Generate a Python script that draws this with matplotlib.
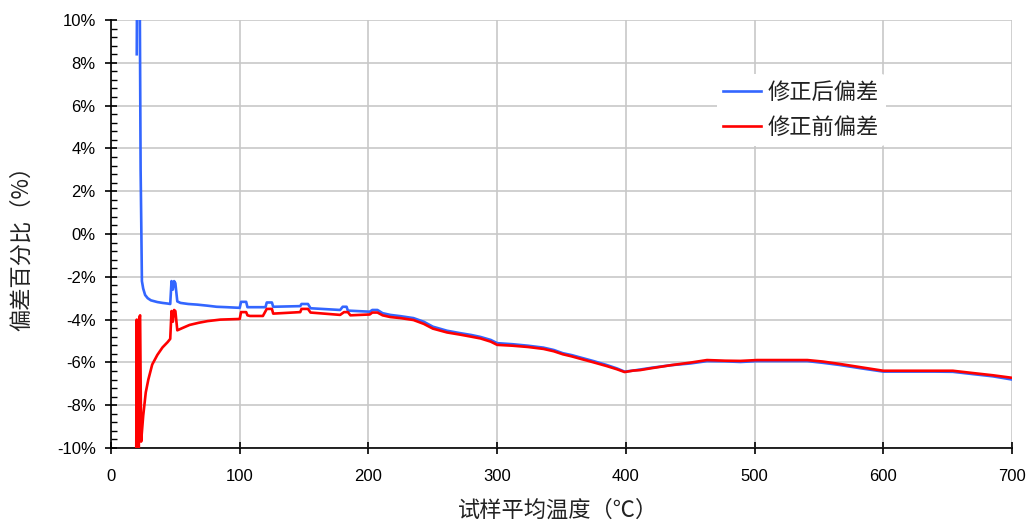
import numpy as np
import matplotlib
matplotlib.use("Agg")
import matplotlib.pyplot as plt
from matplotlib.ticker import MultipleLocator, FuncFormatter

# temperature (°C) and deviation (%)
temp_after = [20.0, 20.5, 22.0, 23.0, 23.5, 24.0, 25.0, 26.5, 28.5, 31, 36, 40, 44, 46,
              47.0, 48.0, 49.0, 50.0, 51.5, 54, 60, 67, 75, 82, 90, 100,
              101, 105, 106, 108, 120, 121, 125, 126, 147, 148, 153, 155, 178,
              180, 183, 184, 201, 203, 207, 211, 217, 225, 235, 243, 250, 261,
              271, 280, 287, 295, 300, 312, 324, 336, 344, 351, 358, 364, 375,
              385, 393, 399, 406, 420, 435, 450, 463, 477, 489, 502, 520, 541,
              553, 566, 583, 600, 620, 640, 654, 670, 685, 700]
dev_after = [8.4, 15.0, 15.0, 3.0, 0.5, -2.2, -2.55, -2.85, -3.0, -3.1, -3.18, -3.22, -3.25, -3.27,
             -2.2, -2.6, -2.2, -2.3, -3.15, -3.22, -3.27, -3.3, -3.35, -3.4, -3.42, -3.45,
             -3.17, -3.17, -3.42, -3.42, -3.42, -3.2, -3.2, -3.4, -3.37, -3.27, -3.27, -3.47, -3.55,
             -3.4, -3.4, -3.58, -3.63, -3.55, -3.55, -3.7, -3.78, -3.84, -3.93, -4.1, -4.33, -4.52,
             -4.63, -4.72, -4.81, -4.95, -5.1, -5.15, -5.22, -5.31, -5.42, -5.57, -5.66, -5.76, -5.94,
             -6.12, -6.28, -6.43, -6.38, -6.25, -6.13, -6.05, -5.94, -5.95, -5.98, -5.94, -5.94, -5.94,
             -6.02, -6.12, -6.28, -6.43, -6.43, -6.43, -6.44, -6.55, -6.65, -6.8]

temp_before = [19.5, 20.0, 20.5, 21.5, 22.0, 22.6, 23.4, 25, 27, 29, 32, 36, 40, 44, 46,
               47.0, 48.0, 49.0, 50.0, 51.5, 56, 61, 68, 75, 85, 100,
               101, 105, 106, 108, 118, 121, 125, 126, 147, 148, 153, 155, 178,
               181, 184, 186, 201, 203, 207, 211, 217, 225, 235, 243, 250, 261,
               271, 280, 287, 295, 300, 312, 324, 336, 344, 351, 358, 364, 375,
               385, 393, 399, 406, 411, 420, 435, 450, 463, 477, 489, 502, 520, 541,
               553, 566, 583, 600, 620, 640, 654, 670, 685, 700]
dev_before = [-12.0, -4.0, -12.0, -12.0, -3.9, -3.8, -9.7, -8.5, -7.4, -6.8, -6.1, -5.65, -5.3, -5.05, -4.9,
              -3.6, -4.1, -3.55, -3.6, -4.5, -4.38, -4.25, -4.15, -4.07, -4.0, -3.97,
              -3.65, -3.65, -3.8, -3.83, -3.83, -3.5, -3.5, -3.72, -3.65, -3.5, -3.5, -3.67, -3.78,
              -3.65, -3.65, -3.8, -3.76, -3.67, -3.67, -3.8, -3.88, -3.93, -4.02, -4.2, -4.42, -4.6,
              -4.7, -4.8, -4.88, -5.03, -5.18, -5.22, -5.28, -5.37, -5.48, -5.62, -5.72, -5.82, -6.0,
              -6.17, -6.32, -6.45, -6.38, -6.36, -6.27, -6.13, -6.01, -5.89, -5.92, -5.93, -5.89, -5.89, -5.89,
              -5.96, -6.07, -6.23, -6.39, -6.39, -6.39, -6.39, -6.5, -6.6, -6.72]

label_after = "修正后偏差"
label_before = "修正前偏差"
x_label = "试样平均温度（℃）"
y_label = "偏差百分比（%）"

cjk = ["Noto Sans CJK SC", "DejaVu Sans"]
plt.rcParams["font.family"] = ["Liberation Sans", "DejaVu Sans"]

fig = plt.figure(figsize=(10.26, 5.21), dpi=100)
ax = fig.add_axes([0.1082, 0.1401, 0.8782, 0.8215])

ax.plot(temp_after, dev_after, color="#3366ff", lw=1.9, label=label_after, zorder=3)
ax.plot(temp_before, dev_before, color="#ff0000", lw=1.9, label=label_before, zorder=4)

ax.set_xlim(0, 700)
ax.set_ylim(-10, 10)
ax.xaxis.set_major_locator(MultipleLocator(100))
ax.yaxis.set_major_locator(MultipleLocator(2))
ax.yaxis.set_minor_locator(MultipleLocator(0.4))
ax.yaxis.set_major_formatter(FuncFormatter(lambda v, p: f"{v:.0f}%"))

ax.grid(True, which="major", color="#c8c8c8", lw=1.2, zorder=0)
ax.set_axisbelow(True)
for s in ["top", "right"]:
    ax.spines[s].set_visible(False)
for s in ["left", "bottom"]:
    ax.spines[s].set_linewidth(1.2)

ax.tick_params(axis="both", which="major", direction="inout", length=8, width=1.2,
               labelsize=12, colors="black")
ax.tick_params(axis="y", which="minor", direction="in", length=4, width=1.0)
ax.tick_params(axis="x", which="major", pad=11)
ax.tick_params(axis="y", which="major", pad=7)

# axis titles placed where the reference has them
fig.text(558 / 1026, 1 - 510 / 521, x_label, family=cjk, fontsize=16,
         ha="center", va="center", color="#222222")
fig.text(21 / 1026, 1 - 243 / 521, y_label, family=cjk, fontsize=16,
         ha="center", va="center", rotation=90, color="#222222")

leg = ax.legend(loc="center left", bbox_to_anchor=(0.672, 0.79), frameon=True,
                prop={"family": cjk, "size": 16}, handlelength=1.7, handletextpad=0.3,
                labelspacing=0.55, borderpad=0.3, borderaxespad=0)
leg.get_frame().set_edgecolor("none")
leg.get_frame().set_facecolor("white")
leg.get_frame().set_alpha(1.0)
for t in leg.get_texts():
    t.set_color("#222222")

fig.savefig("out.png", dpi=100)
